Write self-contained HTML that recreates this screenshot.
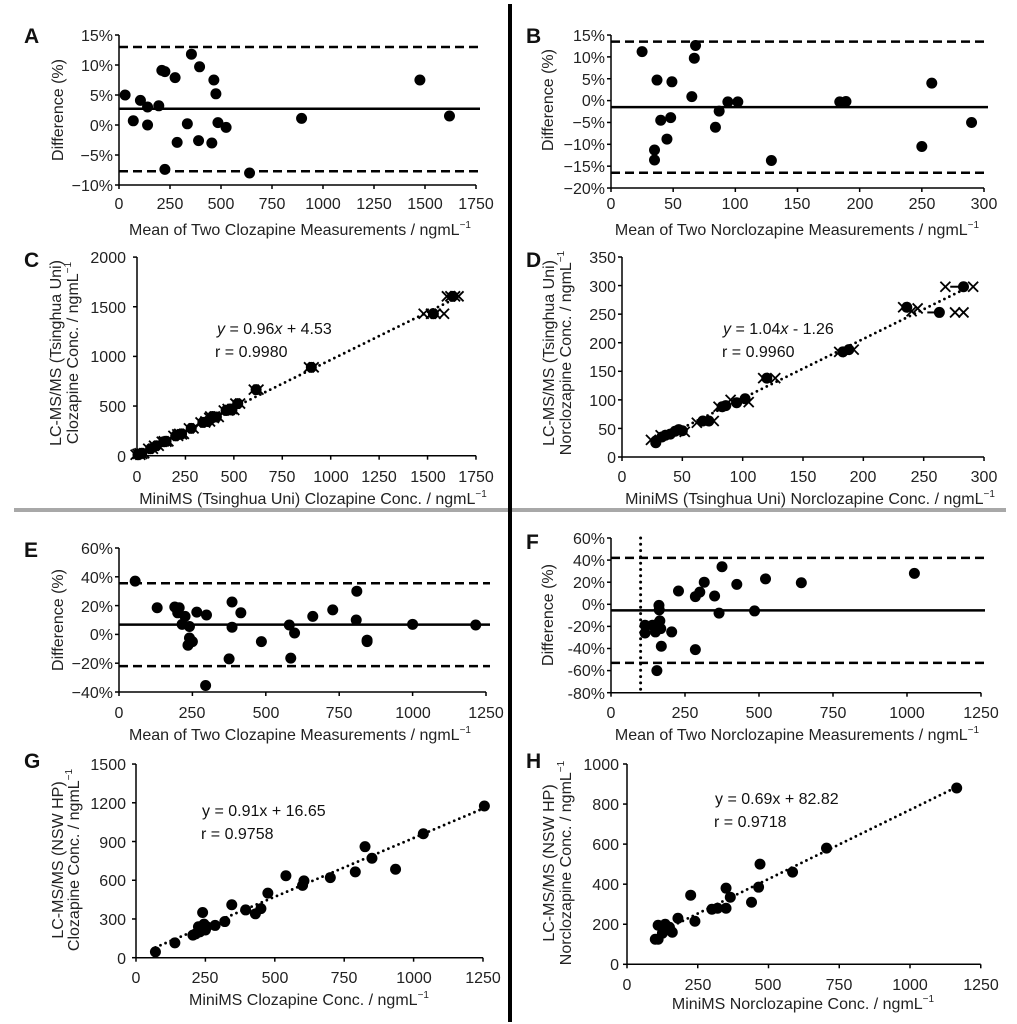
<!DOCTYPE html>
<html><head><meta charset="utf-8"><style>
html,body{margin:0;padding:0;background:#fff;}
svg{display:block;font-family:"Liberation Sans",Arial,sans-serif;}
.ty{font-size:16px;fill:#222;text-anchor:end;}
.tx{font-size:16px;fill:#222;text-anchor:middle;}
.ti{font-size:16px;fill:#222;text-anchor:middle;}
.L{font-size:21px;font-weight:bold;fill:#111;}
.eq{font-size:16px;fill:#111;}
</style></head><body>
<svg id="s" width="1017" height="1024" viewBox="0 0 1017 1024" xmlns="http://www.w3.org/2000/svg">
<rect width="1017" height="1024" fill="#fff"/>
<line x1="510" y1="4" x2="510" y2="1022" stroke="#000" stroke-width="4"/>
<line x1="14" y1="510" x2="1006" y2="510" stroke="#a8a8a8" stroke-width="4"/>
<line x1="510" y1="508" x2="510" y2="512" stroke="#000" stroke-width="4"/>

<text class="L" x="24" y="43">A</text>
<text class="L" x="526" y="43">B</text>
<text class="L" x="24" y="267">C</text>
<text class="L" x="526" y="267">D</text>
<text class="L" x="24" y="557">E</text>
<text class="L" x="526" y="549">F</text>
<text class="L" x="24" y="768">G</text>
<text class="L" x="526" y="768">H</text>

<!-- A -->
<text class="ty" x="113" y="41">15%</text><text class="ty" x="113" y="71">10%</text><text class="ty" x="113" y="101">5%</text>
<text class="ty" x="113" y="131">0%</text><text class="ty" x="113" y="161">−5%</text><text class="ty" x="113" y="191">−10%</text>
<text class="tx" x="119" y="209">0</text><text class="tx" x="170" y="209">250</text><text class="tx" x="221" y="209">500</text><text class="tx" x="272" y="209">750</text><text class="tx" x="323" y="209">1000</text><text class="tx" x="374" y="209">1250</text><text class="tx" x="425" y="209">1500</text><text class="tx" x="476" y="209">1750</text>
<text class="ti" x="300" y="235">Mean of Two Clozapine Measurements / ngmL<tspan font-size="10" dy="-7">−1</tspan></text>
<text class="ti" transform="translate(63,110) rotate(-90)">Difference (%)</text>

<!-- B -->
<text class="ty" x="605" y="41">15%</text><text class="ty" x="605" y="63">10%</text><text class="ty" x="605" y="85">5%</text><text class="ty" x="605" y="106">0%</text><text class="ty" x="605" y="128">−5%</text><text class="ty" x="605" y="150">−10%</text><text class="ty" x="605" y="172">−15%</text><text class="ty" x="605" y="194">−20%</text>
<text class="tx" x="611" y="209">0</text><text class="tx" x="673" y="209">50</text><text class="tx" x="735" y="209">100</text><text class="tx" x="797" y="209">150</text><text class="tx" x="860" y="209">200</text><text class="tx" x="922" y="209">250</text><text class="tx" x="984" y="209">300</text>
<text class="ti" x="797" y="235">Mean of Two Norclozapine Measurements / ngmL<tspan font-size="10" dy="-7">−1</tspan></text>
<text class="ti" transform="translate(553,100) rotate(-90)">Difference (%)</text>

<!-- C -->
<text class="ty" x="126" y="462">0</text><text class="ty" x="126" y="412">500</text><text class="ty" x="126" y="362">1000</text><text class="ty" x="126" y="313">1500</text><text class="ty" x="126" y="263">2000</text>
<text class="tx" x="137" y="482">0</text><text class="tx" x="185" y="482">250</text><text class="tx" x="234" y="482">500</text><text class="tx" x="282" y="482">750</text><text class="tx" x="331" y="482">1000</text><text class="tx" x="379" y="482">1250</text><text class="tx" x="428" y="482">1500</text><text class="tx" x="476" y="482">1750</text>
<text class="ti" x="313" y="504">MiniMS (Tsinghua Uni) Clozapine Conc. / ngmL<tspan font-size="10" dy="-7">−1</tspan></text>
<text class="ti" transform="translate(61,353) rotate(-90)">LC-MS/MS (Tsinghua Uni)</text>
<text class="ti" transform="translate(78,353) rotate(-90)">Clozapine Conc. / ngmL<tspan font-size="10" dy="-7">−1</tspan></text>
<text class="eq" x="217" y="334"><tspan font-style="italic">y</tspan> = 0.96<tspan font-style="italic">x</tspan> + 4.53</text>
<text class="eq" x="215" y="357">r  = 0.9980</text>

<!-- D -->
<text class="ty" x="616" y="463">0</text><text class="ty" x="616" y="435">50</text><text class="ty" x="616" y="406">100</text><text class="ty" x="616" y="377">150</text><text class="ty" x="616" y="349">200</text><text class="ty" x="616" y="320">250</text><text class="ty" x="616" y="292">300</text><text class="ty" x="616" y="263">350</text>
<text class="tx" x="622" y="482">0</text><text class="tx" x="682" y="482">50</text><text class="tx" x="743" y="482">100</text><text class="tx" x="803" y="482">150</text><text class="tx" x="863" y="482">200</text><text class="tx" x="924" y="482">250</text><text class="tx" x="984" y="482">300</text>
<text class="ti" x="810" y="504">MiniMS (Tsinghua Uni) Norclozapine Conc. / ngmL<tspan font-size="10" dy="-7">−1</tspan></text>
<text class="ti" transform="translate(554,353) rotate(-90)">LC-MS/MS (Tsinghua Uni)</text>
<text class="ti" transform="translate(571,353) rotate(-90)">Norclozapine Conc. / ngmL<tspan font-size="10" dy="-7">−1</tspan></text>
<text class="eq" x="723" y="334"><tspan font-style="italic">y</tspan> = 1.04<tspan font-style="italic">x</tspan> - 1.26</text>
<text class="eq" x="722" y="357">r  = 0.9960</text>

<!-- E -->
<text class="ty" x="113" y="554">60%</text><text class="ty" x="113" y="583">40%</text><text class="ty" x="113" y="612">20%</text><text class="ty" x="113" y="640">0%</text><text class="ty" x="113" y="669">−20%</text><text class="ty" x="113" y="698">−40%</text>
<text class="tx" x="119" y="718">0</text><text class="tx" x="192" y="718">250</text><text class="tx" x="266" y="718">500</text><text class="tx" x="339" y="718">750</text><text class="tx" x="413" y="718">1000</text><text class="tx" x="486" y="718">1250</text>
<text class="ti" x="300" y="740">Mean of Two Clozapine Measurements / ngmL<tspan font-size="10" dy="-7">−1</tspan></text>
<text class="ti" transform="translate(63,620) rotate(-90)">Difference (%)</text>

<!-- F -->
<text class="ty" x="605" y="544">60%</text><text class="ty" x="605" y="566">40%</text><text class="ty" x="605" y="588">20%</text><text class="ty" x="605" y="610">0%</text><text class="ty" x="605" y="632">-20%</text><text class="ty" x="605" y="654">-40%</text><text class="ty" x="605" y="676">-60%</text><text class="ty" x="605" y="699">-80%</text>
<text class="tx" x="611" y="718">0</text><text class="tx" x="685" y="718">250</text><text class="tx" x="759" y="718">500</text><text class="tx" x="833" y="718">750</text><text class="tx" x="907" y="718">1000</text><text class="tx" x="981" y="718">1250</text>
<text class="ti" x="797" y="740">Mean of Two Norclozapine Measurements / ngmL<tspan font-size="10" dy="-7">−1</tspan></text>
<text class="ti" transform="translate(553,615) rotate(-90)">Difference (%)</text>

<!-- G -->
<text class="ty" x="126" y="964">0</text><text class="ty" x="126" y="925">300</text><text class="ty" x="126" y="886">600</text><text class="ty" x="126" y="848">900</text><text class="ty" x="126" y="809">1200</text><text class="ty" x="126" y="770">1500</text>
<text class="tx" x="136" y="983">0</text><text class="tx" x="205" y="983">250</text><text class="tx" x="275" y="983">500</text><text class="tx" x="344" y="983">750</text><text class="tx" x="414" y="983">1000</text><text class="tx" x="483" y="983">1250</text>
<text class="ti" x="309" y="1005">MiniMS Clozapine Conc. / ngmL<tspan font-size="10" dy="-7">−1</tspan></text>
<text class="ti" transform="translate(63,860) rotate(-90)">LC-MS/MS (NSW HP)</text>
<text class="ti" transform="translate(79,860) rotate(-90)">Clozapine Conc. / ngmL<tspan font-size="10" dy="-7">−1</tspan></text>
<text class="eq" x="202" y="816">y = 0.91x + 16.65</text>
<text class="eq" x="201" y="839">r  = 0.9758</text>

<!-- H -->
<text class="ty" x="619" y="970">0</text><text class="ty" x="619" y="930">200</text><text class="ty" x="619" y="890">400</text><text class="ty" x="619" y="850">600</text><text class="ty" x="619" y="810">800</text><text class="ty" x="619" y="770">1000</text>
<text class="tx" x="627" y="990">0</text><text class="tx" x="698" y="990">250</text><text class="tx" x="768" y="990">500</text><text class="tx" x="839" y="990">750</text><text class="tx" x="910" y="990">1000</text><text class="tx" x="981" y="990">1250</text>
<text class="ti" x="803" y="1009">MiniMS Norclozapine Conc. / ngmL<tspan font-size="10" dy="-7">−1</tspan></text>
<text class="ti" transform="translate(554,863) rotate(-90)">LC-MS/MS (NSW HP)</text>
<text class="ti" transform="translate(571,863) rotate(-90)">Norclozapine Conc. / ngmL<tspan font-size="10" dy="-7">−1</tspan></text>
<text class="eq" x="715" y="804">y = 0.69x + 82.82</text>
<text class="eq" x="714" y="827">r  = 0.9718</text>

<g id="g"></g>
</svg>
<script>
var NS="http://www.w3.org/2000/svg",G=document.getElementById("g");
function el(n,a){var e=document.createElementNS(NS,n);for(var k in a)e.setAttribute(k,a[k]);G.appendChild(e);return e;}
function ln(x1,y1,x2,y2,w,da,cap){var a={x1:x1,y1:y1,x2:x2,y2:y2,stroke:"#000","stroke-width":w||1.5};if(da)a["stroke-dasharray"]=da;if(cap)a["stroke-linecap"]=cap;el("line",a);}
function dot(x,y){el("circle",{cx:x,cy:y,r:5.5,fill:"#000"});}
function xm(x,y){ln(x-5,y-5,x+5,y+5,1.8);ln(x-5,y+5,x+5,y-5,1.8);}
function panel(P){
 var X=function(v){return P.x0+(v-P.vx0)*P.sx;},Y=function(v){return P.y0-(v-P.vy0)*P.sy;};
 ln(P.x0,P.ytop,P.x0,P.ybot,1.5);ln(P.x0,P.ybot,P.xr,P.ybot,1.5);
 P.xt.forEach(function(v){ln(X(v),P.ybot,X(v),P.ybot+4,1.5);});
 P.yt.forEach(function(v){ln(P.x0-4,Y(v),P.x0,Y(v),1.5);});
 (P.dash||[]).forEach(function(v){ln(P.x0,Y(v),P.xr+4,Y(v),2.5,"9 5");});
 if(P.mean!=null)ln(P.x0,Y(P.mean),P.xr+4,Y(P.mean),2.5);
 if(P.vline!=null){ln(X(P.vline),P.ytop,X(P.vline),P.ybot,3,"0 6.3","round");}
 if(P.fit){var a=P.fit;ln(X(a[0]),Y(a[1]),X(a[2]),Y(a[3]),2.8,"0 5.5","round");}
 (P.xs||[]).forEach(function(p){xm(X(p[0]),Y(p[1]));});
 P.pts.forEach(function(p){dot(X(p[0]),Y(p[1]));});
}
panel({x0:119,vx0:0,sx:0.204,y0:125,vy0:0,sy:6,ytop:35,ybot:185,xr:476,
xt:[0,250,500,750,1000,1250,1500,1750],yt:[15,10,5,0,-5,-10],dash:[13,-7.7],mean:2.7,
pts:[[30,5],[70,0.7],[105,4.1],[140,3],[140,0],[195,3.2],[210,9.1],[225,8.9],[225,-7.4],[275,7.9],[285,-2.9],[335,0.2],[355,11.8],[390,-2.6],[395,9.7],[455,-3],[465,7.5],[475,5.2],[485,0.4],[525,-0.4],[640,-8],[895,1.1],[1475,7.5],[1620,1.5]]});
panel({x0:611,vx0:0,sx:1.2433,y0:100.6,vy0:0,sy:4.371,ytop:35,ybot:188,xr:984,
xt:[0,50,100,150,200,250,300],yt:[15,10,5,0,-5,-10,-15,-20],dash:[13.5,-16.5],mean:-1.5,
pts:[[25,11.2],[35,-11.3],[35,-13.6],[37,4.7],[40,-4.5],[45,-8.8],[48,-3.9],[49,4.3],[65,0.9],[67,9.7],[68,12.6],[84,-6.1],[87,-2.4],[94,-0.3],[102,-0.3],[129,-13.7],[184,-0.3],[189,-0.2],[250,-10.5],[258,4],[290,-5]]});
var cp=[[5,10],[15,18],[25,25],[70,70],[100,100],[140,140],[150,145],[200,200],[220,215],[230,220],[280,275],[340,335],[365,345],[385,380],[390,395],[410,390],[460,455],[480,470],[490,460],[520,525],[615,665],[900,890],[1530,1430],[1630,1605]];
var cx=[];cp.forEach(function(p){cx.push([p[0]-12,p[1]]);cx.push([p[0]+12,p[1]]);});
cx.push([1480,1430],[1585,1430],[1600,1605],[1660,1605]);
panel({x0:137,vx0:0,sx:0.1937,y0:455.7,vy0:0,sy:0.0993,ytop:257,ybot:455.7,xr:476,
xt:[0,250,500,750,1000,1250,1500,1750],yt:[0,500,1000,1500,2000],fit:[0,4.5,1640,1580],xs:cx,pts:cp});
var dp=[[28,25],[28,28],[33,35],[36,38],[40,40],[44,45],[47,48],[50,46],[67,63],[72,63],[83,88],[86,90],[95,95],[102,102],[120,138],[183,184],[188,188],[236,262],[263,253],[283,298]];
var dx=[[24,30],[32,38],[52,44],[62,60],[76,63],[80,88],[90,100],[105,96],[117,138],[127,138],[180,184],[192,188],[233,262],[240,255],[245,260],[276,253],[283,253],[268,298],[291,298]];
panel({x0:622,vx0:0,sx:1.2067,y0:457,vy0:0,sy:0.5714,ytop:257,ybot:457,xr:984,
xt:[0,50,100,150,200,250,300],yt:[0,50,100,150,200,250,300,350],fit:[30,30,285,295],xs:dx,pts:dp});
ln(622+253*1.2067,457-253*0.5714,622+263*1.2067,457-253*0.5714,2);
ln(622+272*1.2067,457-298*0.5714,622+283*1.2067,457-298*0.5714,2);
panel({x0:119,vx0:0,sx:0.2936,y0:634.4,vy0:0,sy:1.44,ytop:548,ybot:692,xr:486,
xt:[0,250,500,750,1000,1250],yt:[60,40,20,0,-20,-40],dash:[35.5,-22],mean:6.8,
pts:[[55,37],[130,18.5],[190,19],[200,15],[205,18.5],[215,7],[225,12.5],[240,5.5],[240,-2.5],[235,-7.5],[250,-5],[265,15.5],[298,13.5],[295,-35.5],[375,-17],[385,22.5],[385,5],[415,15],[485,-5],[580,6.5],[585,-16.5],[598,1],[660,12.5],[728,17],[808,10],[810,30],[845,-5],[845,-4],[1000,7],[1215,6.5]]});
panel({x0:611,vx0:0,sx:0.296,y0:604.3,vy0:0,sy:1.105,ytop:538,ybot:692.7,xr:981,
xt:[0,250,500,750,1000,1250],yt:[60,40,20,0,-20,-40,-60,-80],dash:[42,-53],mean:-5.5,vline:100,
pts:[[115,-19],[115,-26],[140,-19],[150,-25],[155,-22],[155,-60],[160,-17],[162,-1],[163,-5],[165,-15],[168,-22],[170,-38],[205,-25],[228,12],[285,7],[285,-41],[300,11],[315,20],[350,7.5],[365,-8],[375,34],[425,18],[485,-6],[522,23],[643,19.5],[1025,28]]});
panel({x0:136,vx0:0,sx:0.2776,y0:957.7,vy0:0,sy:0.1291,ytop:764,ybot:957.7,xr:483,
xt:[0,250,500,750,1000,1250],yt:[0,300,600,900,1200,1500],fit:[70,80,1250,1155],
pts:[[70,45],[140,115],[205,175],[215,185],[225,240],[230,200],[240,350],[245,260],[250,215],[255,240],[285,250],[320,280],[345,410],[395,370],[430,340],[450,380],[475,500],[540,635],[600,560],[605,595],[700,620],[790,665],[825,860],[850,770],[935,685],[1035,960],[1255,1175]]});
panel({x0:627,vx0:0,sx:0.283,y0:964.3,vy0:0,sy:0.2003,ytop:764,ybot:964.3,xr:980.7,
xt:[0,250,500,750,1000,1250],yt:[0,200,400,600,800,1000],fit:[180,205,1165,885],
pts:[[100,125],[110,195],[110,125],[125,155],[135,200],[140,180],[150,185],[160,160],[180,230],[225,345],[240,215],[300,275],[320,280],[350,280],[350,380],[365,335],[440,310],[465,385],[470,500],[585,460],[705,580],[1165,880]]});
</script>
</body></html>
